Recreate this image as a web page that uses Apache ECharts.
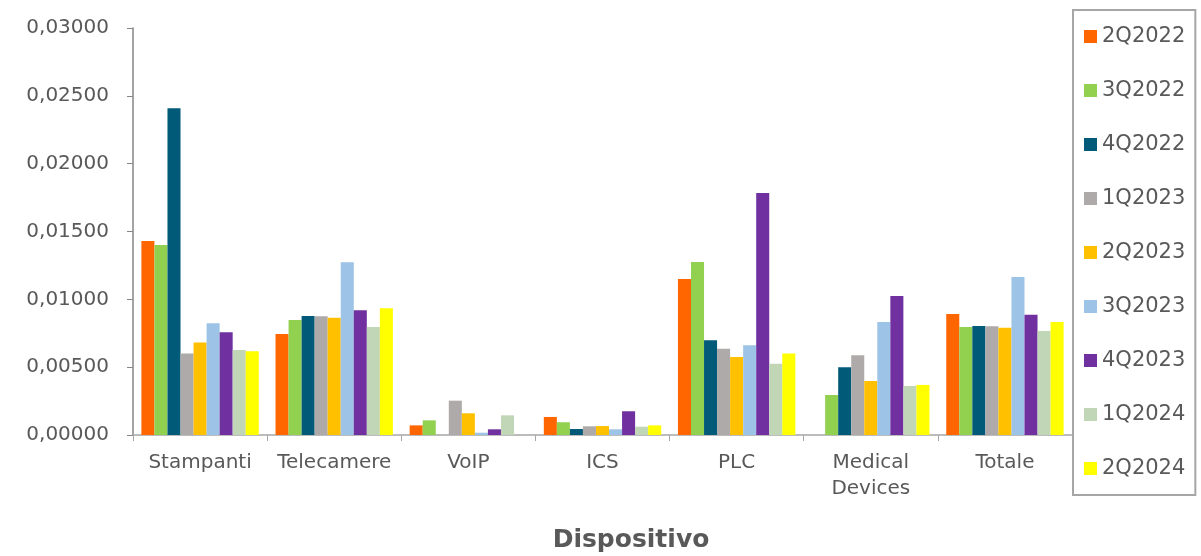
<!DOCTYPE html>
<html><head><meta charset="utf-8">
<script src="https://cdn.jsdelivr.net/npm/echarts@6/dist/echarts.min.js"></script>
<style>html,body{margin:0;padding:0;background:#fff}#c{width:1201px;height:556px}</style>
</head><body><div id="c"></div>
<script>
const categories = ['Stampanti','Telecamere','VoIP','ICS','PLC','Medical\nDevices','Totale'];
const seriesNames = ['2Q2022','3Q2022','4Q2022','1Q2023','2Q2023','3Q2023','4Q2023','1Q2024','2Q2024'];
const colors = ['#ff6600','#92d050','#005a78','#aeaaaa','#ffc000','#9dc3e6','#7030a0','#c0d6b6','#ffff00'];
const s2Q2022 = [0.01430,0.00744,0.00071,0.00133,0.01150,0,0.00892];
const s3Q2022 = [0.01400,0.00848,0.00108,0.00094,0.01275,0.00295,0.00796];
const s4Q2022 = [0.02408,0.00877,0,0.00044,0.00698,0.00499,0.00803];
const s1Q2023 = [0.00600,0.00875,0.00253,0.00064,0.00636,0.00587,0.00801];
const s2Q2023 = [0.00681,0.00865,0.00160,0.00066,0.00575,0.00398,0.00791];
const s3Q2023 = [0.00823,0.01273,0.00017,0.00042,0.00661,0.00833,0.01165];
const s4Q2023 = [0.00757,0.00919,0.00042,0.00175,0.01784,0.01025,0.00887];
const s1Q2024 = [0.00627,0.00796,0.00145,0.00061,0.00526,0.00361,0.00767];
const s2Q2024 = [0.00617,0.00934,0,0.00071,0.00600,0.00369,0.00833];
const seriesData = [s2Q2022,s3Q2022,s4Q2022,s1Q2023,s2Q2023,s3Q2023,s4Q2023,s1Q2024,s2Q2024];
const yTicks = {min:0, max:0.03, interval:0.005};
const axisTitle = 'Dispositivo';

const FONT = 'DejaVu Sans';
const chart = echarts.init(document.getElementById('c'));
chart.setOption({
  animation:false,
  color: colors,
  textStyle:{fontFamily:FONT},
  grid:{left:133, right:129, top:28, bottom:121, containLabel:false},
  legend:{
    orient:'vertical', left:1073, top:10,
    padding:[16,10,16,11],
    borderColor:'#a6a6a6', borderWidth:2,
    itemWidth:13, itemHeight:13, itemGap:33,
    icon:'rect',
    textStyle:{fontFamily:FONT, fontSize:21, color:'#595959', lineHeight:21},
    data: seriesNames
  },
  xAxis:{
    type:'category', data:categories,
    axisLine:{lineStyle:{color:'#a6a6a6', width:1.5}},
    axisTick:{show:true, length:6, lineStyle:{color:'#a6a6a6'}},
    axisLabel:{fontFamily:FONT, fontSize:20, color:'#595959', margin:15, lineHeight:26, interval:0}
  },
  yAxis:{
    type:'value', min:yTicks.min, max:yTicks.max, interval:yTicks.interval,
    splitLine:{show:false},
    axisLine:{show:true, lineStyle:{color:'#868686', width:1.5}},
    axisTick:{show:true, length:6, lineStyle:{color:'#868686'}},
    axisLabel:{fontFamily:FONT, fontSize:20, color:'#595959', margin:24,
      formatter:v=>v.toFixed(5).replace('.',',')}
  },
  graphic:[{type:'text', style:{x:631, y:540, text:axisTitle, textAlign:'center', textVerticalAlign:'middle',
    font:'bold 25px "DejaVu Sans"', fill:'#595959'}}],
  series: seriesNames.map((n,i)=>({
    name:n, type:'bar', data:seriesData[i], barGap:'0%', barCategoryGap:'12.5%',
    itemStyle:{color:colors[i]}
  }))
});
</script></body></html>
